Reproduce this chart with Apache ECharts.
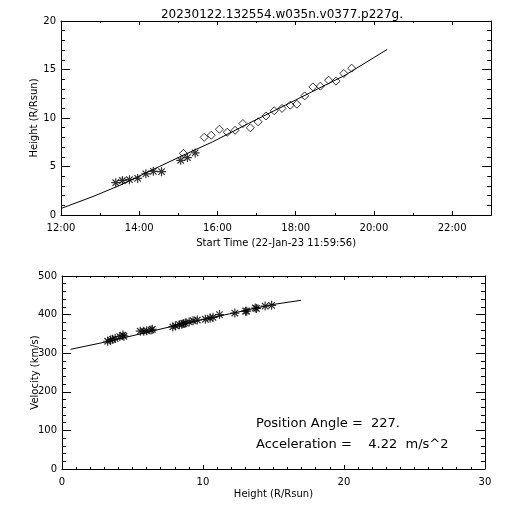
<!DOCTYPE html>
<html>
<head>
<meta charset="utf-8">
<script src="https://cdn.jsdelivr.net/npm/echarts@6/dist/echarts.min.js"></script>
<style>
html,body{margin:0;padding:0;background:#fff;}
#chart{width:512px;height:512px;}
</style>
</head>
<body>
<div id="chart"></div>
<script>
// ---- Data ----
// Top panel: time (hours after 00:00 on 22-Jan-23) vs height (R/Rsun)
var starTimes   = [13.40, 13.57, 13.75, 13.96, 14.17, 14.36, 14.57, 15.06, 15.23, 15.43];
var starHeights = [3.33, 3.56, 3.64, 3.77, 4.24, 4.50, 4.47, 5.64, 5.92, 6.40];
var diamondTimes   = [15.13, 15.66, 15.84, 16.05, 16.25, 16.45, 16.65, 16.84, 17.04, 17.24, 17.45, 17.65, 17.86, 18.03, 18.23, 18.44, 18.63, 18.84, 19.03, 19.23, 19.43];
var diamondHeights = [6.36, 8.01, 8.22, 8.84, 8.53, 8.73, 9.43, 8.99, 9.61, 10.21, 10.75, 10.99, 11.32, 11.42, 12.28, 13.21, 13.28, 13.90, 13.80, 14.59, 15.14];
var fitTimes   = [12.00, 12.82, 13.50, 14.52, 15.20, 15.87, 16.80, 17.82, 18.41, 19.26, 20.34];
var fitHeights = [0.67, 1.91, 3.05, 5.01, 6.30, 7.53, 9.45, 11.49, 12.69, 14.40, 17.07];

// Bottom panel: height (R/Rsun) vs velocity (km/s)
var velHeights = [3.24, 3.45, 3.58, 3.77, 4.10, 4.32, 4.39, 5.55, 5.80, 6.01, 6.32, 6.41, 7.86, 8.05, 8.33, 8.50, 8.63, 8.75, 9.02, 9.30, 9.60, 10.17, 10.50, 10.71, 11.17, 12.26, 13.02, 13.10, 13.71, 13.80, 14.41, 14.87];
var velValues  = [331, 334, 336, 338, 343, 347, 344, 357, 357, 358, 360, 362, 368, 371, 374, 375, 377, 378, 381, 384, 386, 388, 391, 393, 400, 404, 409, 409, 417, 416, 422, 424];
var velFitHeights = [0.60, 3.35, 6.36, 8.67, 11.90, 14.92, 16.95];
var velFitValues  = [310, 331, 357, 377, 402, 426, 437];

var titleText = '20230122.132554.w035n.v0377.p227g.';
var topXName = 'Start Time (22-Jan-23 11:59:56)';
var topYName = 'Height (R/Rsun)';
var botXName = 'Height (R/Rsun)';
var botYName = 'Velocity (km/s)';
var noteLines = ['Position Angle =  227.', 'Acceleration =    4.22  m/s^2'];

function zip(a, b) { return a.map(function (v, i) { return [v, b[i]]; }); }

var FONT = 'DejaVu Sans';
var BLACK = '#000';
var starPath = 'path://M0,-5L0,5M-5,0L5,0M-3.6,-3.6L3.6,3.6M-3.6,3.6L3.6,-3.6';
var diamondPath = 'path://M0,-5L5,0L0,5L-5,0Z';

function timeFmt(v) { return v + ':00'; }

function axis(kind, grid, min, max, interval, minorSplit, pos, visibleLabels, name, nameGap, fmt) {
  var isX = kind === 'x';
  var a = {
    type: 'value', gridIndex: grid, min: min, max: max, interval: interval, position: pos,
    axisLine: { show: true, onZero: false, lineStyle: { color: BLACK, width: 1 } },
    axisTick: { show: true, inside: true, length: isX ? 4 : 9, lineStyle: { color: BLACK, width: 1 } },
    minorTick: { show: true, splitNumber: minorSplit, length: isX ? 2 : 4, lineStyle: { color: BLACK, width: 1 } },
    splitLine: { show: false }, minorSplitLine: { show: false },
    // mirrored axes keep labels "shown" but fully transparent
    axisLabel: { show: true, color: visibleLabels ? BLACK : 'rgba(0,0,0,0)', fontFamily: FONT, fontSize: 10,
                 margin: isX ? 8 : 5, showMinLabel: true, showMaxLabel: !(isX && grid === 0) }
  };
  if (fmt) a.axisLabel.formatter = fmt;
  if (name) {
    a.name = name; a.nameLocation = 'middle'; a.nameGap = nameGap; a.nameMoveOverlap = false;
    a.nameTextStyle = { color: BLACK, fontFamily: FONT, fontSize: 10 };
  }
  return a;
}

var chart = echarts.init(document.getElementById('chart'));
var option = {
  animation: false,
  title: {
    text: titleText, left: 277, top: 4, textAlign: 'center',
    textStyle: { color: BLACK, fontFamily: FONT, fontSize: 12, fontWeight: 'normal' }
  },
  grid: [
    { left: 61, top: 21, width: 433, height: 194 },
    { left: 62, top: 276, width: 432, height: 193 }
  ],
  xAxis: [
    axis('x', 0, 12, 23, 2, 2, 'bottom', true, topXName, 23, timeFmt),
    axis('x', 0, 12, 23, 2, 2, 'top', false),
    axis('x', 1, 0, 30, 10, 10, 'bottom', true, botXName, 20),
    axis('x', 1, 0, 30, 10, 10, 'top', false)
  ],
  yAxis: [
    axis('y', 0, 0, 20, 5, 5, 'left', true, topYName, 22),
    axis('y', 0, 0, 20, 5, 5, 'right', false),
    axis('y', 1, 0, 500, 100, 5, 'left', true, botYName, 22),
    axis('y', 1, 0, 500, 100, 5, 'right', false)
  ],
  series: [
    { type: 'line', xAxisIndex: 0, yAxisIndex: 0, data: zip(fitTimes, fitHeights), showSymbol: false,
      lineStyle: { color: BLACK, width: 1 } },
    { type: 'scatter', xAxisIndex: 0, yAxisIndex: 0, data: zip(starTimes, starHeights), symbol: starPath, symbolSize: 9,
      itemStyle: { color: 'none', borderColor: BLACK, borderWidth: 1.2 } },
    { type: 'scatter', xAxisIndex: 0, yAxisIndex: 0, data: zip(diamondTimes, diamondHeights), symbol: diamondPath, symbolSize: 8,
      itemStyle: { color: 'none', borderColor: BLACK, borderWidth: 1 } },
    { type: 'line', xAxisIndex: 2, yAxisIndex: 2, data: zip(velFitHeights, velFitValues), showSymbol: false,
      lineStyle: { color: BLACK, width: 1 } },
    { type: 'scatter', xAxisIndex: 2, yAxisIndex: 2, data: zip(velHeights, velValues), symbol: starPath, symbolSize: 9,
      itemStyle: { color: 'none', borderColor: BLACK, borderWidth: 1.2 } }
  ],
  graphic: [
    { type: 'text', left: 256, top: 417, style: { text: noteLines[0], fill: BLACK, font: '13px "DejaVu Sans"' } },
    { type: 'text', left: 256, top: 438, style: { text: noteLines[1], fill: BLACK, font: '13px "DejaVu Sans"' } }
  ]
};
chart.setOption(option);
</script>
</body>
</html>
